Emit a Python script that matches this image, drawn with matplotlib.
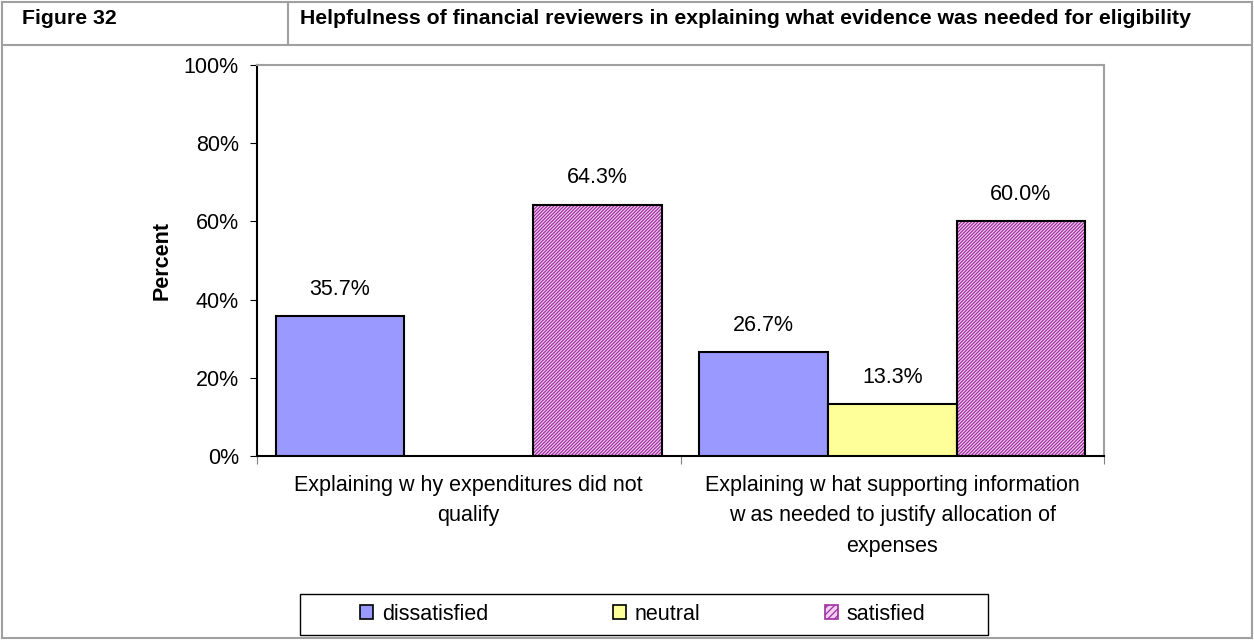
import numpy as np
import matplotlib
matplotlib.use("Agg")
import matplotlib.pyplot as plt
from matplotlib.patches import Rectangle, Patch
from matplotlib.lines import Line2D

plt.rcParams['font.family'] = ['Liberation Sans', 'DejaVu Sans']
plt.rcParams['hatch.linewidth'] = 0.9

categories = ["Explaining w hy expenditures did not\nqualify",
              "Explaining w hat supporting information\nw as needed to justify allocation of\nexpenses"]
series = ["dissatisfied", "neutral", "satisfied"]
dissatisfied = [35.7, 26.7]
neutral = [0.0, 13.3]
satisfied = [64.3, 60.0]
yticks = [0, 20, 40, 60, 80, 100]

colors = {"dissatisfied": "#9999ff", "neutral": "#ffff99", "satisfied": "#f2d0f2"}
hatch_color = "#a030a0"
fs = 15.5

fig = plt.figure(figsize=(12.54, 6.41), dpi=100)
W, H = 1254, 641

# table frame around the figure
grey = "#a0a0a0"
frame = [((2, 2), (1252, 2)), ((2, 638), (1252, 638)), ((2, 2), (2, 638)),
         ((1252, 2), (1252, 638)), ((2, 45), (1252, 45)), ((288, 2), (288, 45))]
for (x0, y0), (x1, y1) in frame:
    fig.add_artist(Line2D([x0 / W, x1 / W], [1 - y0 / H, 1 - y1 / H],
                          color=grey, lw=1.5, transform=fig.transFigure))
fig.text(22 / W, 1 - 18 / H, "Figure 32", fontsize=15.3, fontweight="bold",
         va="center", ha="left")
fig.text(300 / W, 1 - 18 / H,
         "Helpfulness of financial reviewers in explaining what evidence was needed for eligibility",
         fontsize=15.3, fontweight="bold", va="center", ha="left")

ax = fig.add_axes([257 / W, 1 - 456 / H, (1104 - 257) / W, (456 - 65) / H])

x = np.arange(len(categories))
width = 0.304
values = {"dissatisfied": dissatisfied, "neutral": neutral, "satisfied": satisfied}
for i, name in enumerate(series):
    vals = values[name]
    pos = x + (i - 1) * width
    for p, v in zip(pos, vals):
        if v <= 0:
            continue
        if name == "satisfied":
            ax.bar(p, v, width, color=colors[name], edgecolor=hatch_color,
                   hatch="//////////", linewidth=0, zorder=2)
            ax.bar(p, v, width, facecolor="none", edgecolor="black",
                   linewidth=1.5, zorder=3)
        else:
            ax.bar(p, v, width, color=colors[name], edgecolor="black",
                   linewidth=1.5, zorder=3)
        ax.text(p, v + 6.8, f"{v:.1f}%", ha="center", va="center", fontsize=fs)

ax.set_xlim(-0.5, 1.5)
ax.set_ylim(0, 100)
ax.set_yticks(yticks)
ax.set_yticklabels([f"{t}%" for t in yticks], fontsize=fs)
ax.set_xticks([-0.5, 0.5, 1.5])
ax.set_xticklabels([])
ax.tick_params(axis="x", length=6, direction="out", colors="#808080")
ax.tick_params(axis="y", length=5, direction="out", labelsize=fs, pad=8)
for i, lab in enumerate(categories):
    ax.text(x[i], -4.8, lab, ha="center", va="top", fontsize=fs,
            linespacing=1.6, transform=ax.transData)
ax.set_ylabel("Percent", fontsize=fs, fontweight="bold", labelpad=8)
ax.spines["top"].set_color(grey)
ax.spines["right"].set_color(grey)
for s in ax.spines.values():
    s.set_linewidth(1.5)

# legend box drawn separately so its width spans the lower panel
fig.add_artist(Rectangle((300 / W, 1 - 635 / H), (988 - 300) / W, (635 - 594) / H,
                         transform=fig.transFigure, facecolor="white",
                         edgecolor="black", lw=1.0))
handles = [Patch(facecolor=colors["dissatisfied"], edgecolor="black", lw=1.2),
           Patch(facecolor=colors["neutral"], edgecolor="black", lw=1.2),
           Patch(facecolor=colors["satisfied"], edgecolor=hatch_color,
                 hatch="/////", lw=1.2)]
leg = fig.legend(handles, series, ncol=3, loc="center",
                 bbox_to_anchor=(643 / W, 1 - 614 / H),
                 fontsize=fs, frameon=False, handlelength=0.6, handleheight=0.6,
                 handletextpad=0.4, columnspacing=5.8, borderaxespad=0)

fig.savefig("out.png", dpi=100)
